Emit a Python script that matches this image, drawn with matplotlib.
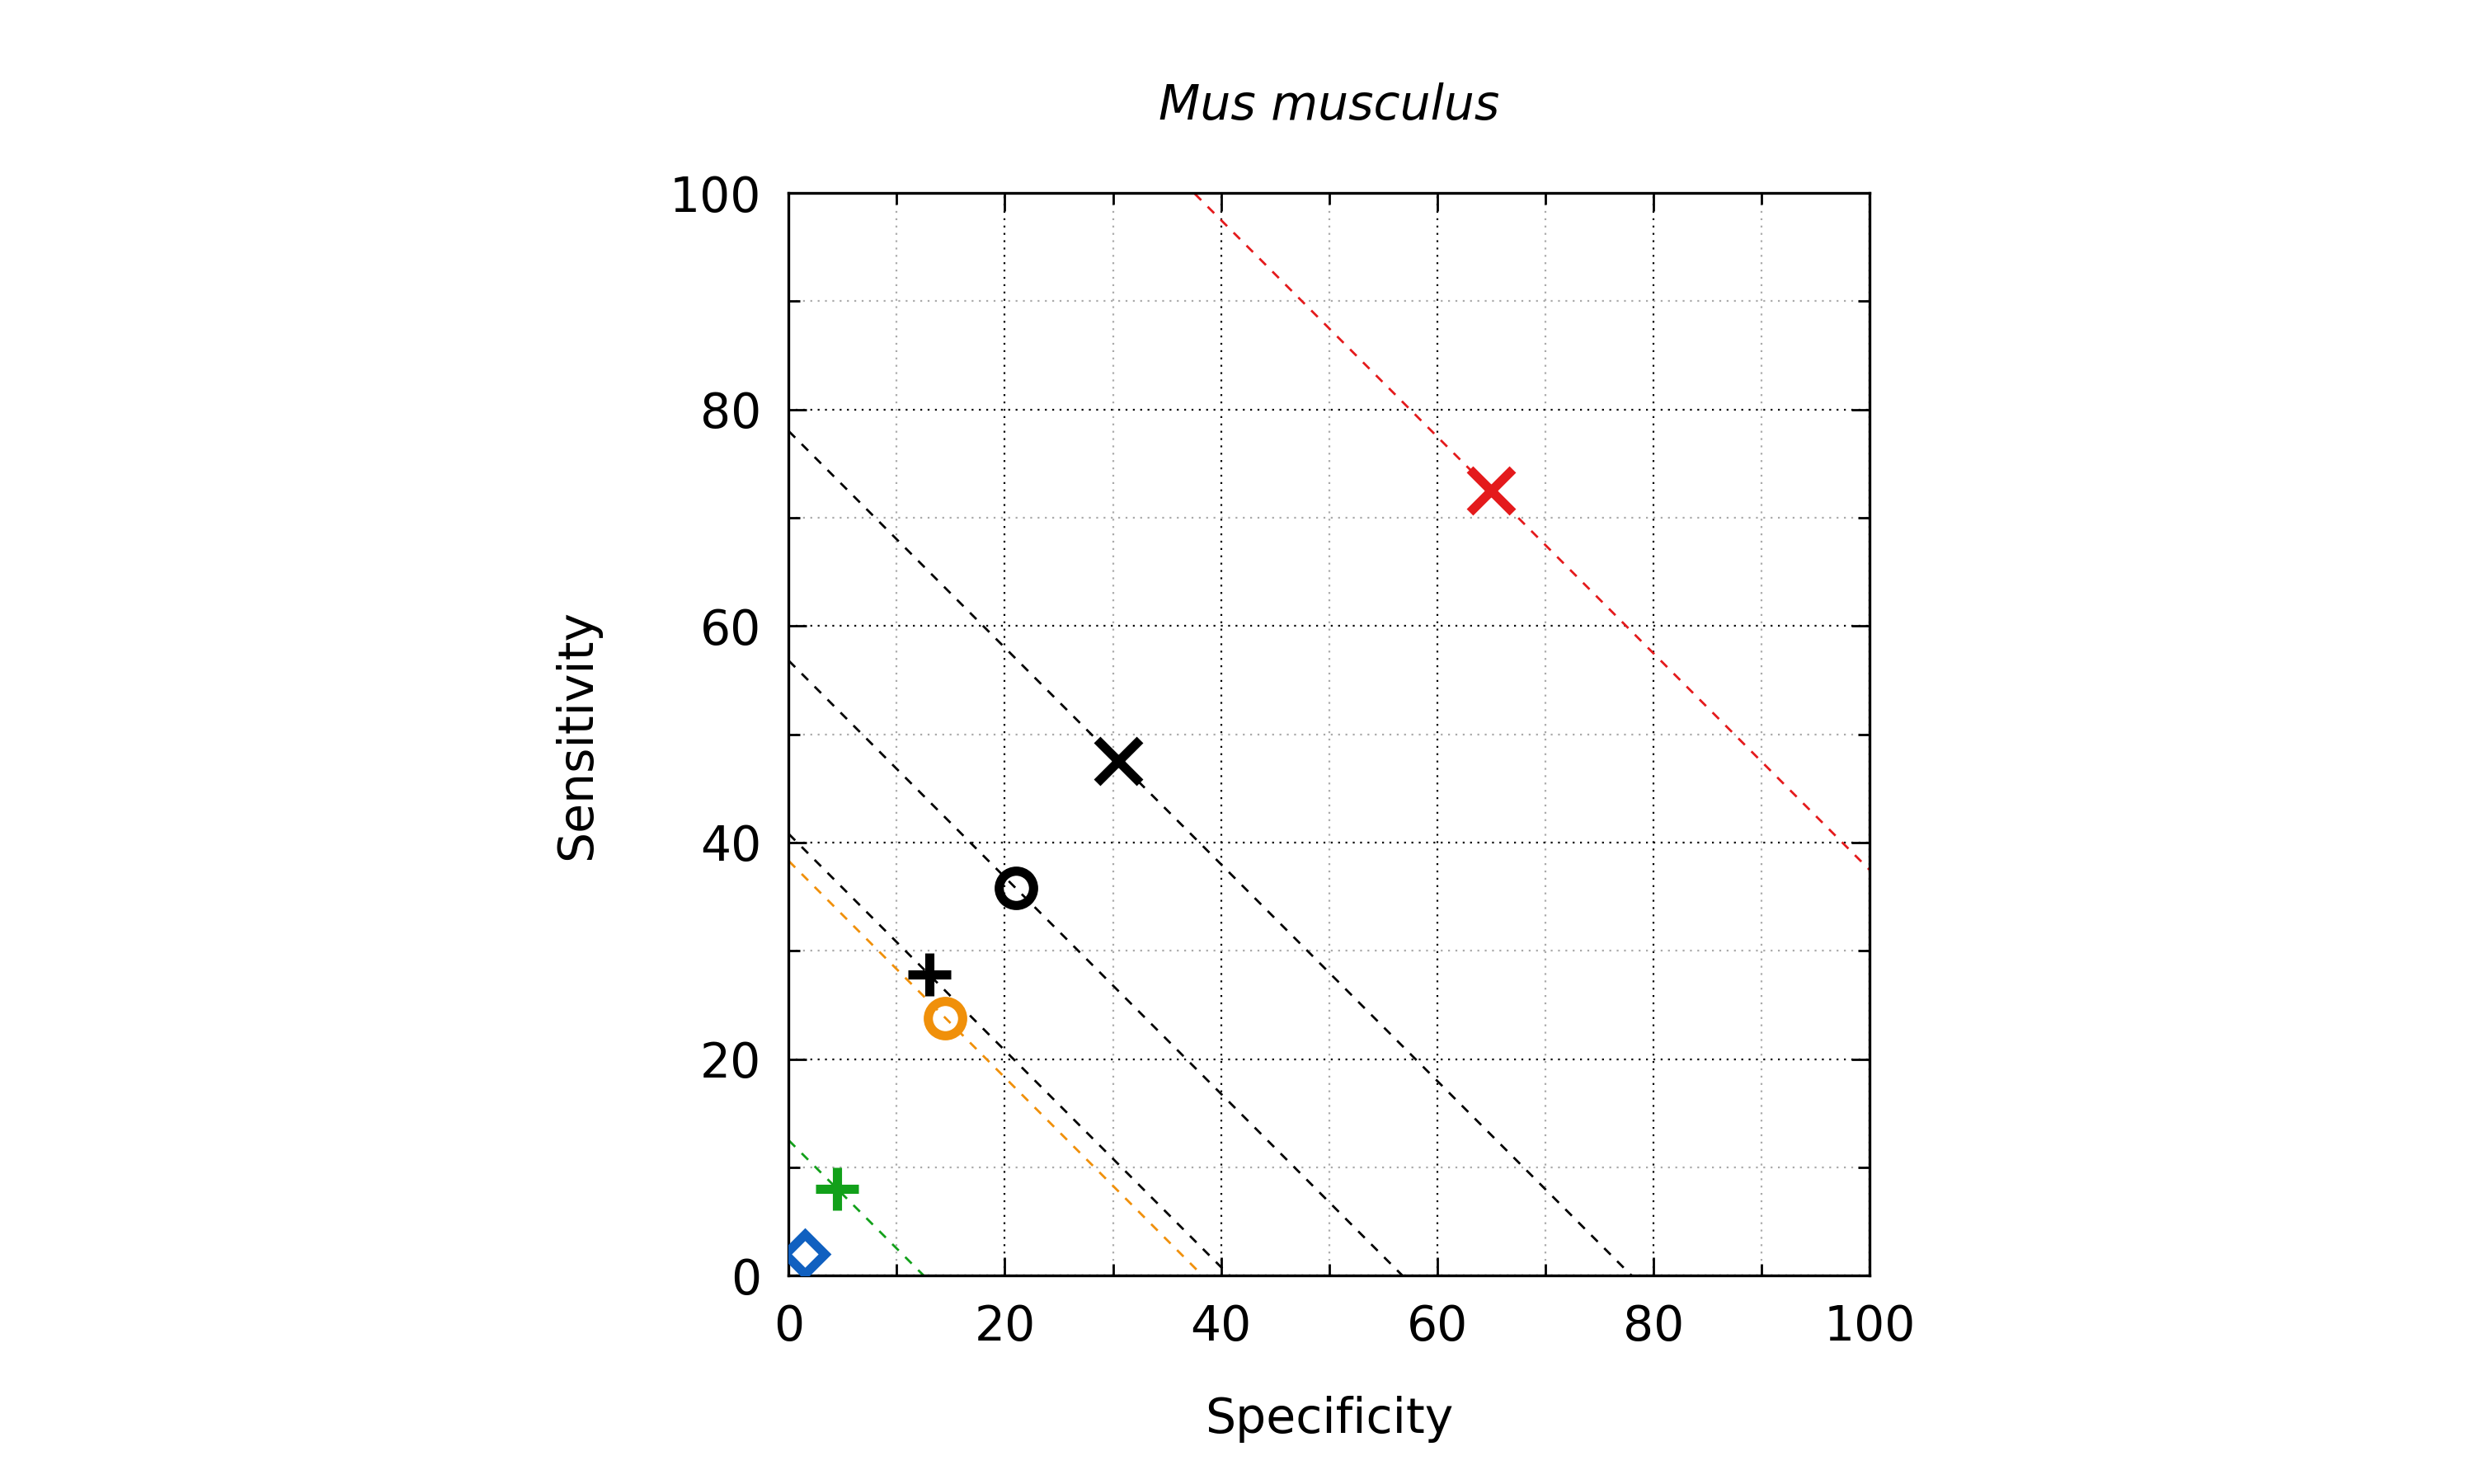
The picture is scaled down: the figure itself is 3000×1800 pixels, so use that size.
import matplotlib
matplotlib.use("Agg")
import matplotlib.pyplot as plt
import numpy as np

spec = [65, 30.5, 21, 13, 14.5, 4.5, 1.5]
sens = [72.5, 47.5, 35.8, 27.8, 23.8, 8, 2]
markers = ['x', 'x', 'o', '+', 'o', '+', 'D']
colors = ['#e41a1c', 'black', 'black', 'black', '#f0900a', '#12a01a', '#1060c0']

fig = plt.figure(figsize=(15, 9), dpi=200)
ax = fig.add_axes([0.3188, 0.1404, 0.4368, 0.7296])
ax.set_xlim(0, 100); ax.set_ylim(0, 100)
xs = np.array([0, 100])
for s, t, m, c in zip(spec, sens, markers, colors):
    k = s + t
    if m != 'D':
        ax.plot(xs, k - xs, ls=(0, (4, 4)), color=c, lw=1.0, zorder=2)
    if m == 'o' or m == 'D':
        ax.plot(s, t, marker=m, ms=15 if m == 'o' else 12, mfc='none', mec=c, mew=4, ls='none', zorder=3)
    else:
        ax.plot(s, t, marker=m, ms=19, mec=c, mew=4, ls='none', zorder=3)

ax.set_xticks(range(0, 101, 20)); ax.set_yticks(range(0, 101, 20))
ax.set_xticks(range(10, 100, 20), minor=True); ax.set_yticks(range(10, 100, 20), minor=True)
ax.grid(which='major', ls=(0, (1, 3)), color='black', lw=0.8)
ax.grid(which='minor', ls=(0, (1, 3)), color='#aaaaaa', lw=0.8)
ax.tick_params(which='both', direction='in', top=True, right=True, labelsize=21, width=1.0)
ax.tick_params(which='major', length=8, pad=12)
ax.tick_params(which='minor', length=5)
for sp in ax.spines.values():
    sp.set_linewidth(1.2)
ax.set_xlabel('Specificity', fontsize=21, labelpad=20)
ax.set_ylabel('Sensitivity', fontsize=21, labelpad=30)
ax.set_title('Mus musculus', fontsize=21, style='italic', pad=32)
fig.savefig('out.png')
